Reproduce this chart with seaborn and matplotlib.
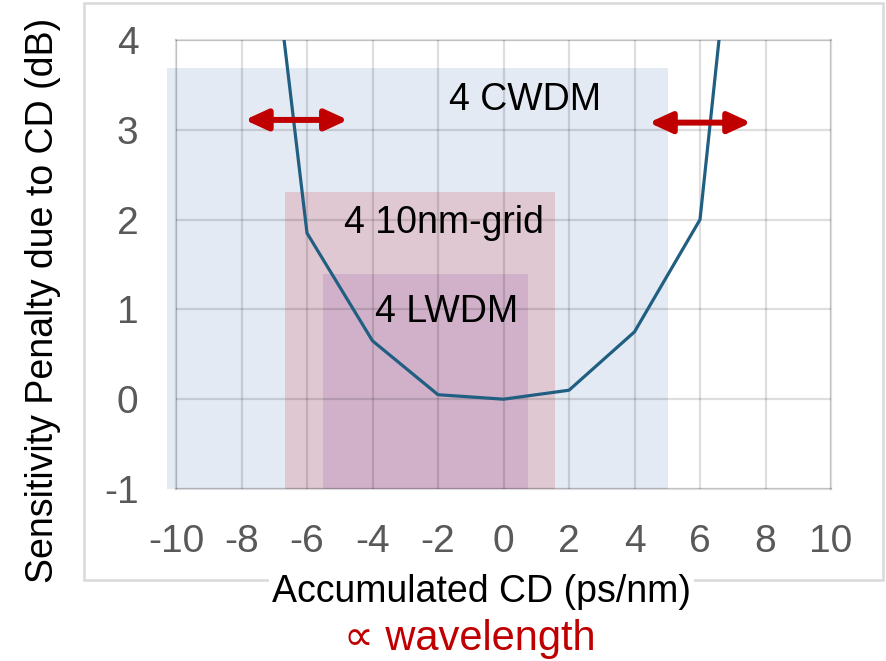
import matplotlib
matplotlib.use("Agg")
import matplotlib.pyplot as plt
import seaborn as sns
import numpy as np
import pandas as pd
from matplotlib.patches import Rectangle, ArrowStyle

# ---- data ----
cd = [-8, -6, -4, -2, 0, 2, 4, 6, 8]
penalty = [8.0, 1.85, 0.65, 0.05, 0.0, 0.1, 0.75, 2.0, 8.9]

band_names = ["4 CWDM", "4 10nm-grid", "4 LWDM"]
band_x0 = [-10.27, -6.67, -5.51]
band_x1 = [5.02, 1.57, 0.75]
band_top = [3.69, 2.31, 1.39]
band_colors = ["#e4eaf3", "#e0c8d2", "#d0b1c9"]
label_x = [0.67, -1.83, -1.73]
label_y = [3.22, 1.85, 0.86]

arrow_left = [-7.9, -4.75]
arrow_right = [4.44, 7.56]
arrow_y = [3.11, 3.08]

xticks = [-10, -8, -6, -4, -2, 0, 2, 4, 6, 8, 10]
yticks = [-1, 0, 1, 2, 3, 4]

sns.set_style("white")
plt.rcParams["font.family"] = ["Liberation Sans", "DejaVu Sans"]

W, H = 887, 661
fig = plt.figure(figsize=(W / 100, H / 100), dpi=100)

# outer frame
fig.patches.append(Rectangle((84 / W, 1 - 580 / H), (883 - 84) / W, (580 - 3) / H,
                             transform=fig.transFigure, fill=False,
                             edgecolor="#d9d9d9", linewidth=1.8, zorder=-5))

ax = fig.add_axes([176 / W, 1 - 489 / H, (831 - 176) / W, (489 - 40) / H])
ax.set_xlim(-10, 10)
ax.set_ylim(-1, 4)

# bands
for x0, x1, top, c in zip(band_x0, band_x1, band_top, band_colors):
    ax.fill_between([x0, x1], [-1, -1], [top, top], color=c, linewidth=0,
                    zorder=1, clip_on=False)

ax.set_axisbelow("line")
ax.grid(True, color="black", alpha=0.13, linewidth=1.6)
for s in ax.spines.values():
    s.set_edgecolor("black")
    s.set_alpha(0.13)
    s.set_linewidth(1.6)

df = pd.DataFrame({"cd": cd, "penalty": penalty})
sns.lineplot(data=df, x="cd", y="penalty", ax=ax, color="#215f82",
             linewidth=2.3, zorder=3)

for name, lx, ly in zip(band_names, label_x, label_y):
    ax.text(lx, ly, name, ha="center", va="baseline", fontsize=27,
            color="black", zorder=4)

style = ArrowStyle("<|-|>", head_length=1.35, head_width=0.62)
for xs, yv in [(arrow_left, arrow_y[0]), (arrow_right, arrow_y[1])]:
    ax.annotate("", xy=(xs[1], yv), xytext=(xs[0], yv),
                arrowprops=dict(arrowstyle=style, color="#c00000", lw=4.3,
                                shrinkA=0, shrinkB=0, mutation_scale=10),
                zorder=5)

ax.set_xticks(xticks)
ax.set_yticks(yticks)
ax.set_xticklabels([str(v) for v in xticks])
ax.set_yticklabels([str(v) for v in yticks])
ax.tick_params(axis="both", length=0, labelsize=28, labelcolor="#595959")
ax.tick_params(axis="y", pad=27)
ax.tick_params(axis="x", pad=25)

ax.set_xlabel("Accumulated CD (ps/nm)", fontsize=27, color="black",
              bbox=dict(facecolor="white", edgecolor="none", pad=2))
ax.xaxis.label.set_va("baseline")
ax.xaxis.label.set_zorder(10)
ax.xaxis.set_label_coords((481.5 - 176) / 655, (489 - 602) / 449)
ax.set_ylabel("Sensitivity Penalty due to CD (dB)", fontsize=27, color="black")
ax.yaxis.label.set_va("center")
ax.yaxis.set_label_coords((43 - 176) / 655, (489 - 300) / 449)

fig.text(470 / W, 1 - 650 / H, "\u221d wavelength", ha="center", va="baseline",
         fontsize=30, color="#c00000")

fig.savefig("out.png", dpi=100)
